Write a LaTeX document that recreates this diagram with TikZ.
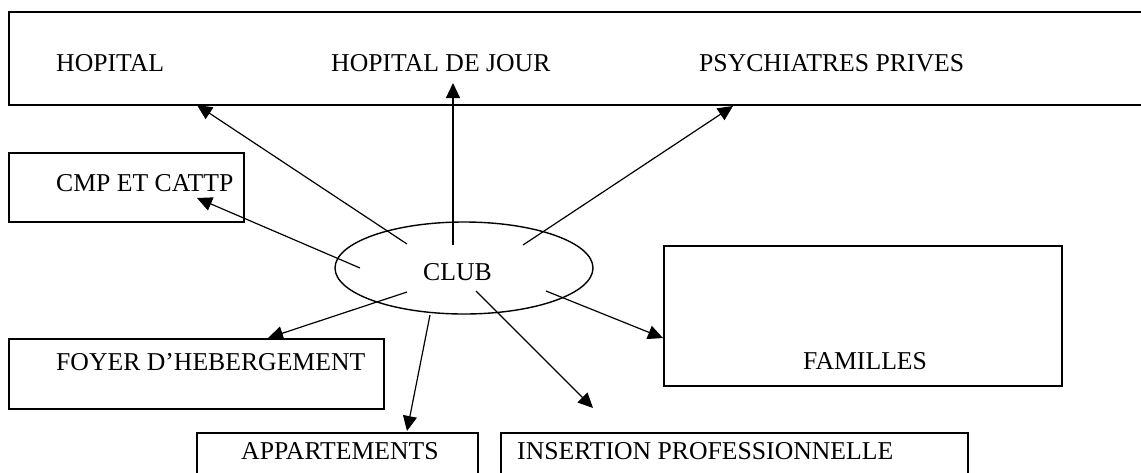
\documentclass[tikz,border=0pt]{standalone}
\usepackage{fontspec}
\setmainfont{Liberation Serif}
\usetikzlibrary{arrows.meta,shapes.geometric}
\begin{document}
\begin{tikzpicture}[x=1pt,y=-1pt,
  boxstyle/.style={draw, line width=1.6pt, inner sep=0pt, anchor=north west},
  lbl/.style={anchor=base west, inner sep=0pt, font=\fontsize{25.7}{30}\selectfont},
  link/.style={line width=1.2pt, -{Triangle[length=15pt,width=14pt]}}]
\useasboundingbox (0,0) rectangle (1141,472);
\clip (0,0) rectangle (1141,472);
% boxes
\node[boxstyle, minimum width=1142pt, minimum height=93pt] (top) at (8,11) {};
\node[boxstyle, minimum width=235pt, minimum height=69pt] (cmp) at (8,152) {};
\node[boxstyle, minimum width=375pt, minimum height=70pt] (foyer) at (8,338) {};
\node[boxstyle, minimum width=398pt, minimum height=140pt] (fam) at (663,245) {};
\node[boxstyle, minimum width=281pt, minimum height=60pt] (app) at (196,432) {};
\node[boxstyle, minimum width=467pt, minimum height=60pt] (ins) at (500,432) {};
\node[draw, ellipse, line width=1.4pt, minimum width=258pt, minimum height=92pt, inner sep=0pt] (club) at (464,268) {};
% labels
\node[lbl] (thop) at (56,71) {HOPITAL};
\node[lbl] (tjour) at (331,71) {HOPITAL DE JOUR};
\node[lbl] (tpsy) at (699,71) {PSYCHIATRES PRIVES};
\node[lbl] (tcmp) at (56,191) {CMP ET CATTP};
\node[lbl] (tclub) at (423,280) {CLUB};
\node[lbl] (tfoyer) at (56,370) {FOYER D’HEBERGEMENT};
\node[lbl] (tfam) at (803,369) {FAMILLES};
\node[lbl] (tapp) at (241,459) {APPARTEMENTS};
\node[lbl] (tins) at (517,459) {INSERTION PROFESSIONNELLE};
% arrow ends
\coordinate (s1) at (407,244); \coordinate (e1) at (197,105);
\coordinate (s2) at (453,245); \coordinate (e2) at (453,83);
\coordinate (s3) at (523,245); \coordinate (e3) at (733,106);
\coordinate (s4) at (360,268); \coordinate (e4) at (197,198);
\coordinate (s5) at (407,292); \coordinate (e5) at (268,338);
\coordinate (s6) at (430,315); \coordinate (e6) at (407,431);
\coordinate (s7) at (476,291); \coordinate (e7) at (593,408);
\coordinate (s8) at (546,291); \coordinate (e8) at (663,338);
\foreach \i in {1,...,8} { \draw[link] (s\i) -- (e\i); }
\end{tikzpicture}
\end{document}
